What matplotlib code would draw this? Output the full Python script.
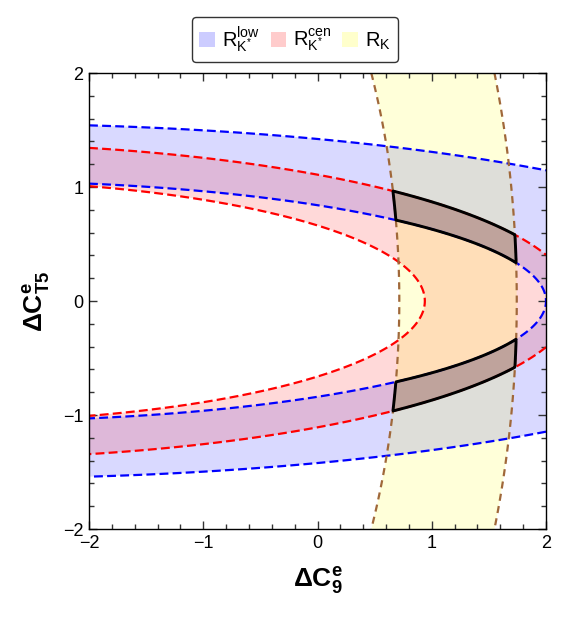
import numpy as np
import matplotlib
matplotlib.use("Agg")
import matplotlib.pyplot as plt
from matplotlib.patches import Patch
from matplotlib.ticker import MultipleLocator

plt.rcParams['font.family'] = ['Liberation Sans', 'DejaVu Sans']
plt.rcParams['mathtext.fontset'] = 'custom'
plt.rcParams['mathtext.rm'] = 'Liberation Sans'
plt.rcParams['mathtext.it'] = 'Liberation Sans:italic'
plt.rcParams['mathtext.bf'] = 'Liberation Sans:bold'

# each band: F = y^2 + B*x + C*x^2, region lo <= F <= hi
band_names = ['low', 'cen', 'RK']
band_B = [0.265, 0.41, 13.96]
band_C = [0.044, 0.061, 1.98]
band_lo = [0.706, 0.439, 11.01]
band_hi = [2.02, 1.228, 30.37]
fill_colors = ['#0000ff', '#ff0000', '#ffff00']
line_colors = ['#0000ff', '#ff0000', '#a0683a']
legend_labels = [r'$\mathrm{R^{low}_{K^{*}}}$', r'$\mathrm{R^{cen}_{K^{*}}}$', r'$\mathrm{R_K}$']
legend_colors = ['#ccccff', '#ffcccc', '#ffffcc']

xs = np.linspace(-2, 2, 1400)
X, Y = np.meshgrid(xs, xs)

fig = plt.figure(figsize=(5.71, 6.17), dpi=100)
ax = fig.add_axes([89/571, 1-529/617, 457/571, 456/617])

fields = []
for B, C in zip(band_B, band_C):
    fields.append(Y**2 + B*X + C*X**2)

for F, lo, hi, fc in zip(fields, band_lo, band_hi, fill_colors):
    ax.contourf(X, Y, F, levels=[lo, hi], colors=[fc], alpha=0.15, antialiased=True)

# overlap of all three bands
G = np.minimum.reduce([np.minimum(F - lo, hi - F) for F, lo, hi in zip(fields, band_lo, band_hi)])
ax.contourf(X, Y, G, levels=[0, G.max() + 1], colors=['#5a4a4a'], alpha=0.25)

dash_styles = [(0, (4.0, 1.9)), (0, (4.0, 1.9)), (0, (3.2, 2.4))]
for F, lo, hi, lc, ds in zip(fields, band_lo, band_hi, line_colors, dash_styles):
    cs = ax.contour(X, Y, F, levels=[lo, hi], colors=[lc], linewidths=1.6)
    cs.set_linestyle(ds)

ax.contour(X, Y, G, levels=[0], colors='black', linewidths=2.1)

ax.set_xlim(-2, 2)
ax.set_ylim(-2, 2)
ax.xaxis.set_major_locator(MultipleLocator(1))
ax.yaxis.set_major_locator(MultipleLocator(1))
ax.xaxis.set_minor_locator(MultipleLocator(0.2))
ax.yaxis.set_minor_locator(MultipleLocator(0.2))
ax.tick_params(which='both', direction='in', top=True, right=True, width=1.0, color='#333333')
ax.tick_params(which='major', length=6, labelsize=13, pad=4)
ax.tick_params(which='minor', length=3.5)
for s in ax.spines.values():
    s.set_linewidth(1.0)

ax.set_xlabel(r'$\mathbf{\Delta C^e_9}$', fontsize=19, labelpad=10)
ax.set_ylabel(r'$\mathbf{\Delta C^e_{T5}}$', fontsize=19, labelpad=8)

handles = [Patch(facecolor=c, edgecolor='none') for c in legend_colors]
leg = fig.legend(handles, legend_labels, loc='center', bbox_to_anchor=(295/571, 1-39.5/617),
                 ncol=3, fontsize=14.5, frameon=True, fancybox=True, edgecolor='black',
                 handlelength=0.75, handleheight=0.75, handletextpad=0.35, columnspacing=0.55,
                 borderpad=0.35, borderaxespad=0)
leg.get_frame().set_linewidth(1.0)

fig.savefig('out.png', dpi=100)
